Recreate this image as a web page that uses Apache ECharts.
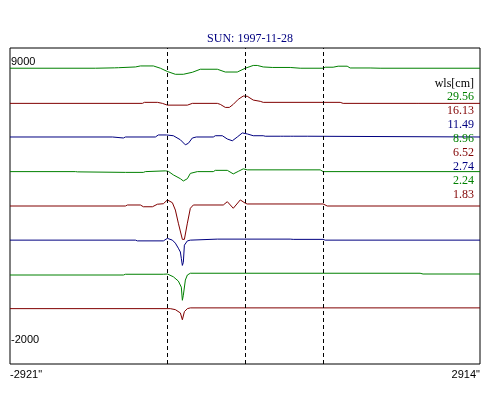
<!DOCTYPE html>
<html>
<head>
<meta charset="utf-8">
<script src="https://cdn.jsdelivr.net/npm/echarts@6/dist/echarts.min.js"></script>
<style>
  html, body { margin: 0; padding: 0; background: #fff; }
  #chart { width: 500px; height: 400px; }
</style>
</head>
<body>
<div id="chart"></div>
<script>
// wavelengths shown in the key, one per trace (top to bottom)
const wavelengths = ['29.56', '16.13', '11.49', '8.96', '6.52', '2.74', '2.24', '1.83'];
const traceColors = ['#008000', '#800000', '#000080', '#008000', '#800000', '#000080', '#008000', '#800000'];
// vertical offset of each trace (data units)
const offsets = [8750, 7360, 6030, 4660, 3300, 1950, 570, -760];
// solar limb / centre markers (arcsec)
const limbLines = [-973, 0, 973];
const xTicks = [-2921, 2914];
const yTicks = [9000, -2000];

// [arcsec, deviation]
const trace1 = [[-2921,0],[-1860,0],[-1848,15],[-1624,15],[-1600,0],[-1575,20],[-1364,50],[-1302,90],[-1141,90],[-1054,0],[-967,-130],[-868,-240],[-769,-240],[-657,-160],[-558,-40],[-347,-40],[-248,-150],[-99,-150],[0,0],[99,110],[149,110],[223,50],[335,30],[558,30],[682,0],[967,0],[992,40],[1091,40],[1153,80],[1265,80],[1302,10],[1550,10],[1674,0],[2914,0]];
const trace2 = [[-2921,0],[-1277,0],[-1252,40],[-1091,40],[-1029,0],[-967,-70],[-719,-70],[-657,0],[-347,0],[-310,-40],[-248,-160],[-198,-160],[-149,-40],[-87,160],[-25,290],[25,280],[99,130],[186,80],[223,40],[1178,40],[1215,0],[2120,0],[2133,40],[2145,0],[2914,0]];
const trace3 = [[-2921,0],[-1649,0],[-1637,-40],[-1513,-40],[-1488,0],[-1116,0],[-1079,80],[-980,80],[-893,50],[-806,-110],[-744,-310],[-707,-250],[-657,-40],[-608,0],[-397,0],[-372,50],[-285,50],[-223,-80],[-161,-150],[-99,0],[-37,160],[25,120],[99,50],[223,50],[248,30],[434,30],[446,50],[471,30],[558,30],[570,50],[595,30],[769,30],[781,0],[2914,0]];
const trace4 = [[-2921,0],[-2108,0],[-2083,-10],[-1488,-30],[-1265,-30],[-1240,0],[-992,30],[-955,10],[-893,-130],[-806,-280],[-769,-370],[-719,-280],[-682,-70],[-595,0],[-397,0],[-372,50],[-223,50],[-149,-90],[-87,10],[-25,110],[25,70],[930,70],[967,0],[2914,0]];
const trace5 = [[-2921,0],[-1488,0],[-1463,40],[-1302,40],[-1265,-30],[-1153,-30],[-1091,70],[-1017,90],[-967,240],[-905,130],[-868,-160],[-831,-680],[-781,-1320],[-756,-1320],[-719,-680],[-682,-90],[-645,40],[-273,40],[-223,170],[-149,-90],[-62,240],[0,110],[25,80],[967,80],[1017,0],[2914,0]];
const trace6 = [[-2921,0],[-1364,0],[-1339,-30],[-1017,-30],[-967,70],[-905,0],[-868,-120],[-831,-320],[-806,-470],[-794,-720],[-781,-1000],[-769,-880],[-756,-200],[-719,-30],[-682,0],[-347,40],[558,40],[595,30],[967,30],[992,0],[2914,0]];
const trace7 = [[-2921,0],[-1513,0],[-1488,30],[-1017,30],[-967,40],[-893,-70],[-831,-240],[-794,-480],[-781,-1000],[-769,-800],[-744,-200],[-719,0],[-682,70],[2170,70],[2207,40],[2914,40]];
const trace8 = [[-2921,0],[-931,0],[-868,-40],[-806,-170],[-781,-440],[-756,-120],[-719,0],[-682,30],[2914,30]];
const traces = [trace1, trace2, trace3, trace4, trace5, trace6, trace7, trace8];

const chart = echarts.init(document.getElementById('chart'));

const series = traces.map((tr, i) => ({
  type: 'line',
  data: tr.map(p => [p[0], offsets[i] + p[1]]),
  showSymbol: false,
  silent: true,
  lineStyle: { color: traceColors[i], width: 1 },
  markLine: i === 0 ? {
    silent: true,
    symbol: ['none', 'none'],
    label: { show: false },
    lineStyle: { color: '#000', type: [4, 3], width: 1 },
    data: limbLines.map(v => ({ xAxis: v }))
  } : undefined
}));

// key: header + coloured wavelengths, right-aligned
const keyItems = [{
  type: 'text', z: 10,
  style: { text: 'wls[cm]', x: 474, y: 84, align: 'right', verticalAlign: 'middle',
           fill: '#000', font: '12px "Liberation Serif"' }
}].concat(wavelengths.map((w, i) => ({
  type: 'text', z: 10,
  style: { text: w, x: 474, y: 97 + i * 14, align: 'right', verticalAlign: 'middle',
           fill: traceColors[i], font: '12px "Liberation Serif"' }
})));

chart.setOption({
  animation: false,
  backgroundColor: '#fff',
  title: {
    text: 'SUN: 1997-11-28',
    left: 'center',
    top: 33,
    padding: 0,
    textStyle: { color: '#000080', fontSize: 12, fontWeight: 'normal', fontFamily: 'Liberation Serif' }
  },
  grid: { left: 10, right: 20, top: 48, bottom: 36, show: true, borderColor: '#000', borderWidth: 1 },
  xAxis: {
    type: 'value',
    min: -2921,
    max: 2914,
    axisLine: { show: false },
    axisTick: { show: false },
    splitLine: { show: false },
    axisLabel: {
      customValues: xTicks,
      margin: 5,
      alignMinLabel: 'left',
      alignMaxLabel: 'right',
      color: '#000',
      fontSize: 11,
      fontFamily: 'Liberation Sans',
      formatter: v => v + '"'
    }
  },
  yAxis: {
    type: 'value',
    min: -2950,
    max: 9550,
    axisLine: { show: false },
    axisTick: { show: false },
    splitLine: { show: false },
    axisLabel: {
      customValues: yTicks,
      inside: true,
      margin: 1,
      color: '#000',
      fontSize: 11,
      fontFamily: 'Liberation Sans',
      formatter: v => String(v)
    }
  },
  graphic: keyItems,
  series: series
});
</script>
</body>
</html>
